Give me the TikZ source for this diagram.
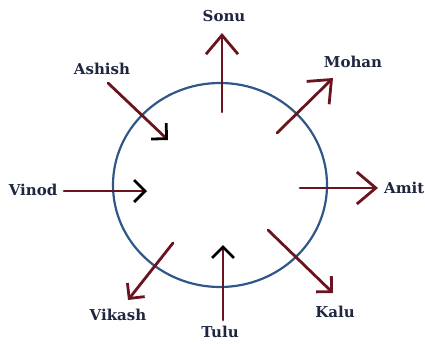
\documentclass[tikz,border=0pt]{standalone}
\usepackage{fontspec}
\setmainfont{DejaVu Serif}
\usetikzlibrary{arrows.meta}
\definecolor{arrowred}{HTML}{6A1420}
\definecolor{ringblue}{HTML}{2F5787}
\definecolor{labelcol}{HTML}{1E2640}
\begin{document}
\begin{tikzpicture}[x=1pt,y=-1pt,
  lbl/.style={font=\bfseries\fontsize{15}{15}\selectfont, text=labelcol, inner sep=0pt},
  arr/.style={draw=arrowred, line width=2.8pt, line cap=round},
  bighead/.style={-{Straight Barb[length=19pt,width=32pt,line width=2.8pt,#1]}},
  bighead/.default={},
  smallhead/.style={-{Straight Barb[length=11pt,width=22pt,line width=2.8pt,#1]}},
  smallhead/.default={}]
\useasboundingbox (0,0) rectangle (425,343);
\draw[ringblue, line width=2.2pt] (220,185) ellipse [x radius=107, y radius=102];
% labels
\node[lbl] (sonu)   at (224,16)  {Sonu};
\node[lbl] (mohan)  at (353,62)  {Mohan};
\node[lbl] (ashish) at (102,69)  {Ashish};
\node[lbl] (vinod)  at (33,190)  {Vinod};
\node[lbl,anchor=west] (amit) at (384,188) {Amit};
\node[lbl] (kalu)   at (335,312) {Kalu};
\node[lbl] (tulu)   at (220,332) {Tulu};
\node[lbl] (vikash) at (118,315) {Vikash};
% arrow ends
\coordinate (s0) at (222,112); \coordinate (s1) at (222,33);
\coordinate (m0) at (277,133); \coordinate (m1) at (333,78);
\coordinate (a0) at (108,83);  \coordinate (a1) at (168,140);
\coordinate (v0) at (64,191);  \coordinate (v1) at (147,191);
\coordinate (t0) at (300,188); \coordinate (t1) at (378,188);
\coordinate (k0) at (268,230); \coordinate (k1) at (333,293);
\coordinate (u0) at (223,320); \coordinate (u1) at (223,245);
\coordinate (x0) at (173,243); \coordinate (x1) at (128,300);
% arrows
\draw[arr,bighead] (s0) -- (s1);
\draw[arr,bighead] (m0) -- (m1);
\draw[arr,smallhead={color=black}] (a0) -- (a1);
\draw[arr,smallhead={color=black}] (v0) -- (v1);
\draw[arr,bighead] (t0) -- (t1);
\draw[arr,smallhead] (k0) -- (k1);
\draw[arr,smallhead={color=black}] (u0) -- (u1);
\draw[arr,smallhead] (x0) -- (x1);
\end{tikzpicture}
\end{document}
